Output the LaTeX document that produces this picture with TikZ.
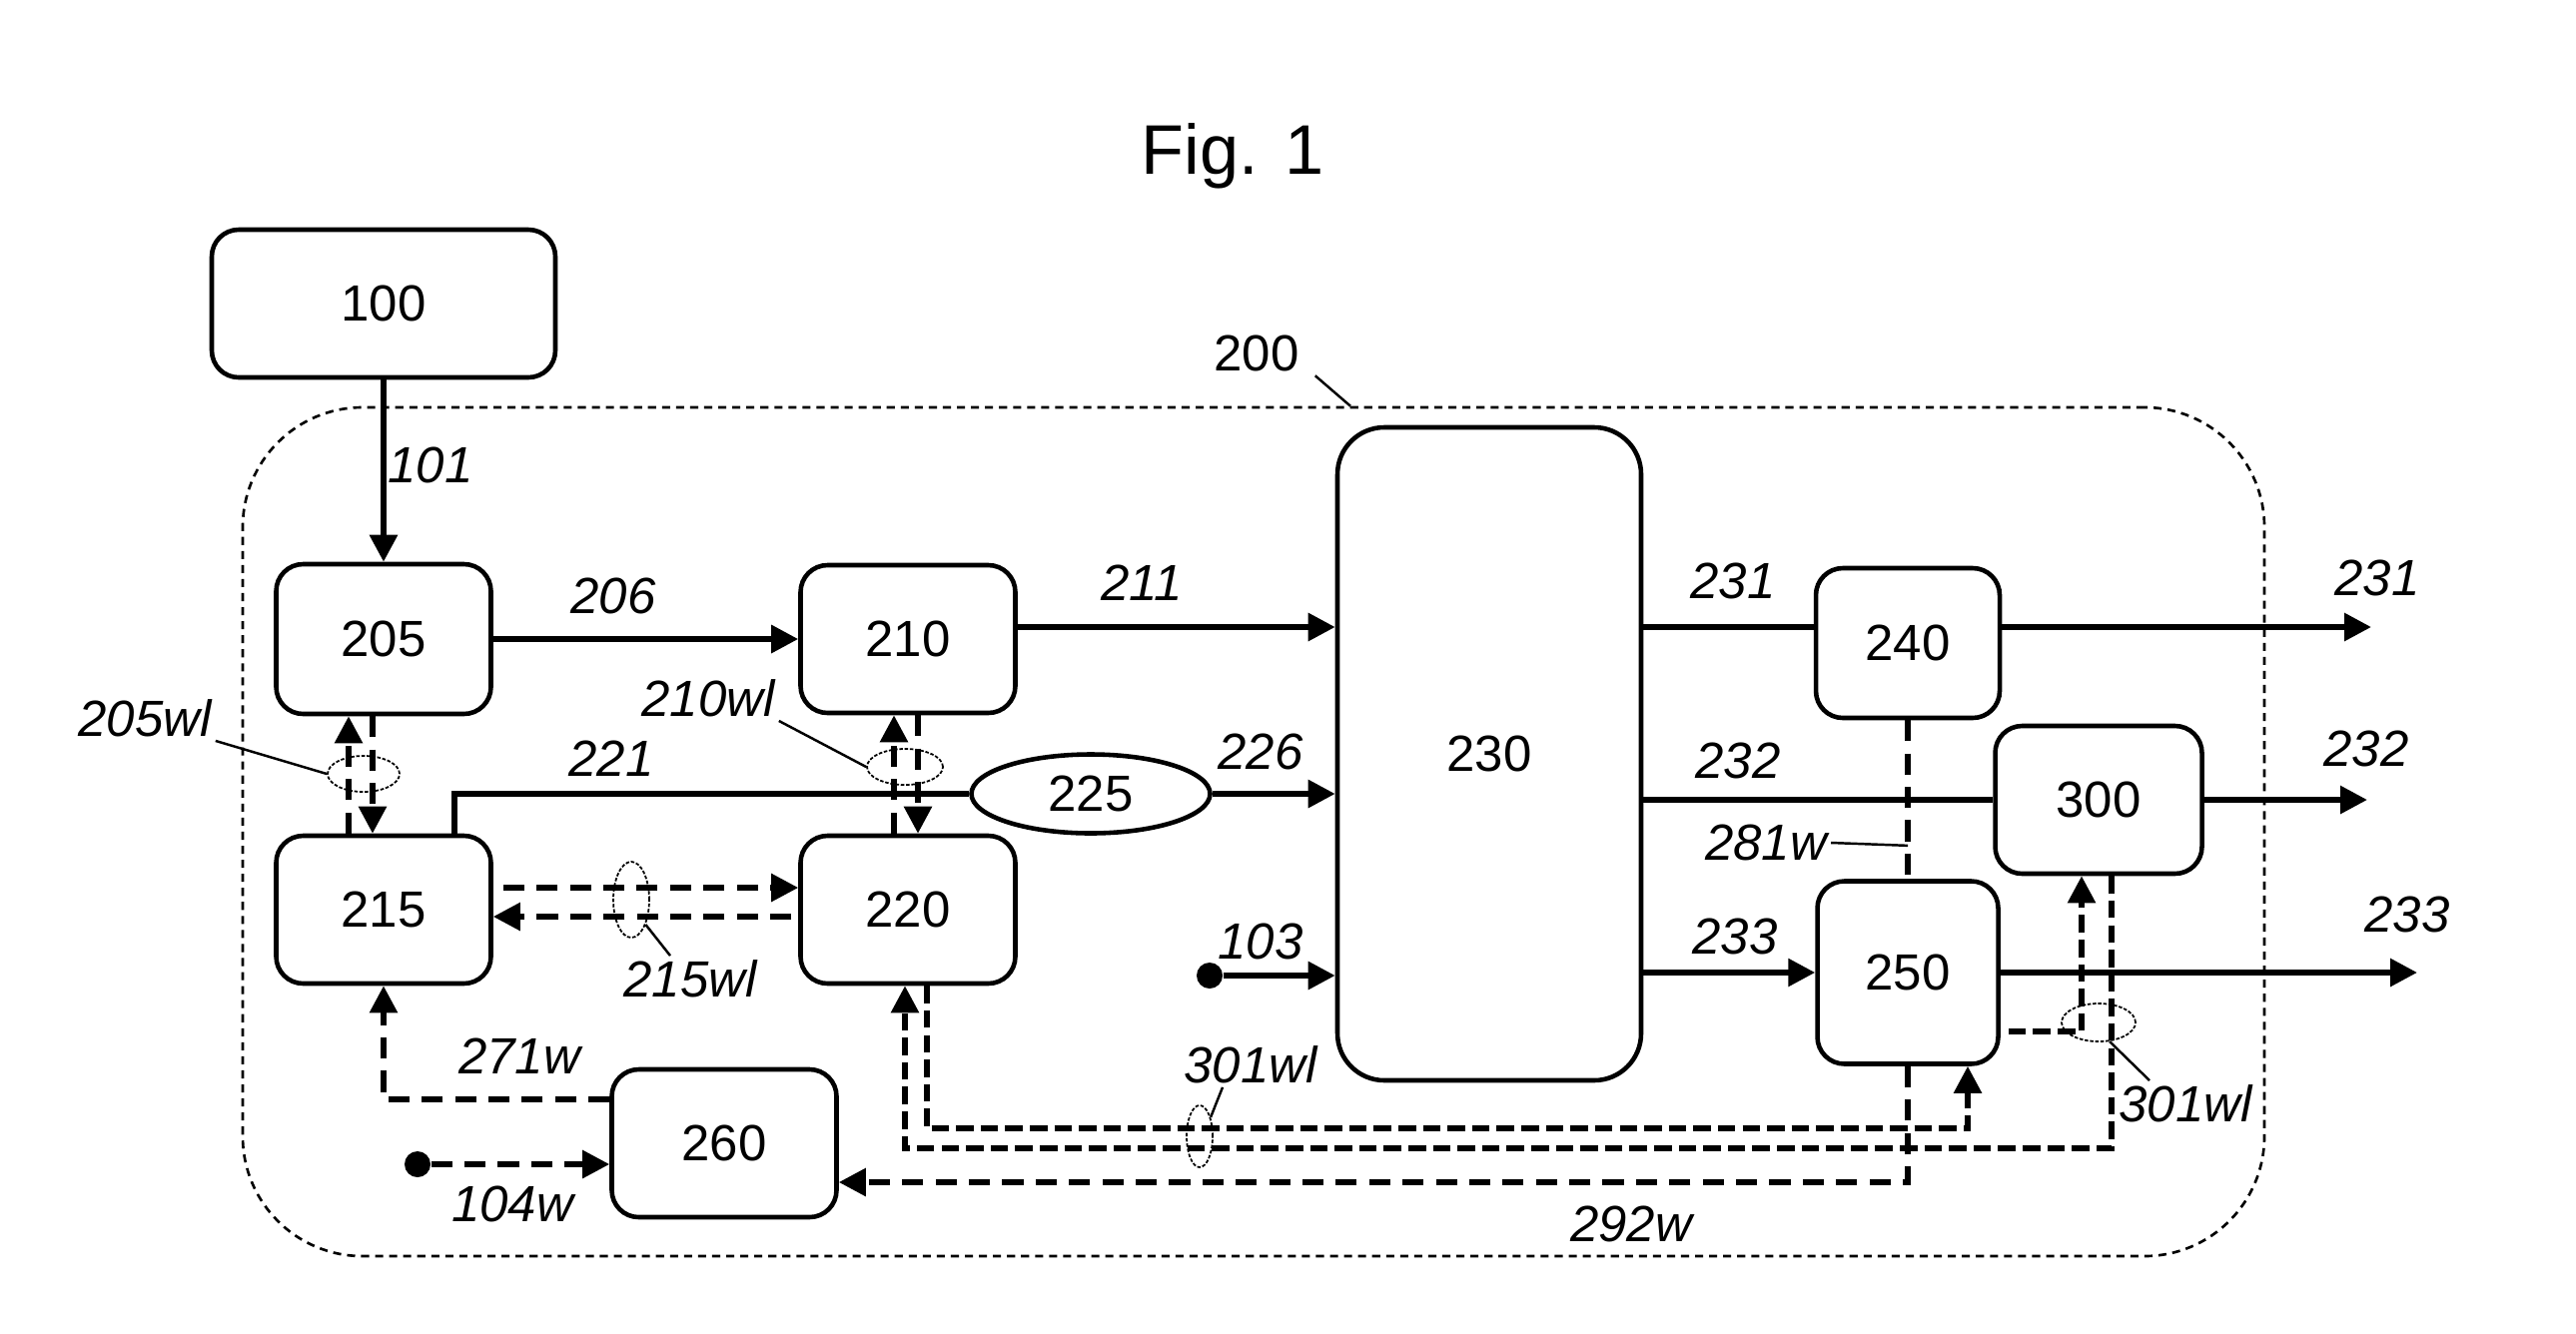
\documentclass[tikz,border=0pt]{standalone}
\usepackage{fontspec}
\setmainfont{Liberation Sans}
\usepackage{tikz}
\usetikzlibrary{arrows.meta, calc, positioning, shapes.geometric}
\newcommand{\figsize}{\fontsize{14.5pt}{17pt}\selectfont}
\tikzset{
  unitbox/.style={
    draw,
    rounded corners=0.27cm,
    line width=1.3pt,
    align=center,
    inner sep=2pt,
    minimum width=2.15cm,
    minimum height=1.48cm,
    font=\figsize
  },
  mixbox/.style={
    ellipse, draw,
    line width=1.3pt,
    inner sep=0pt,
    minimum width=2.39cm,
    minimum height=0.79cm,
    font=\figsize
  },
  flowline/.style={line width=1.7pt},
  flowarrow/.style={flowline, -{Triangle[length=2.7mm,width=2.7mm]}},
  wirelink/.style={line width=1.6pt, dash pattern=on 6pt off 3.5pt},
  wirearrow/.style={wirelink, -{Triangle[length=2.7mm,width=2.7mm]}},
  wirebus/.style={line width=1.6pt, dash pattern=on 5pt off 2pt},
  busarrow/.style={wirebus, -{Triangle[length=2.7mm,width=2.7mm]}},
  ringmark/.style={
    ellipse, draw,
    line width=0.5pt,
    dash pattern=on 1pt off 0.5pt,
    inner sep=0pt
  },
  leader/.style={line width=0.7pt},
  reflabel/.style={font=\figsize\itshape, inner sep=1pt},
  unitlabel/.style={font=\figsize, inner sep=1pt},
  joindot/.style={circle, fill, inner sep=0pt, minimum size=0.26cm},
  sysframe/.style={
    draw,
    rounded corners=1.2cm,
    line width=0.75pt,
    dash pattern=on 2.3pt off 1.7pt,
    inner sep=0pt
  }
}

\begin{document}
\begin{tikzpicture}[x=1cm,y=1cm]
\useasboundingbox (0,0) rectangle (25.79,13.35);

\node[font=\fontsize{20pt}{24pt}\selectfont] (title) at (12.34,11.79) {Fig. 1};

% system frame
\node[sysframe, minimum width=20.24cm, minimum height=8.50cm] (sys200) at (12.55,5.02) {};
\node[unitlabel] (l200) at (12.58,9.81) {200};

% units
\node[unitbox, minimum width=3.44cm] (b100) at (3.84,10.31) {100};
\node[unitbox, minimum height=1.50cm] (b205) at (3.84,6.95) {205};
\node[unitbox] (b210) at (9.09,6.95) {210};
\node[unitbox] (b215) at (3.84,4.24) {215};
\node[unitbox] (b220) at (9.09,4.24) {220};
\node[mixbox] (b225) at (10.92,5.40) {225};
\node[unitbox, rounded corners=0.47cm, minimum width=3.04cm, minimum height=6.54cm] (b230) at (14.91,5.80) {230};
\node[unitbox, minimum width=1.84cm, minimum height=1.50cm] (b240) at (19.10,6.91) {240};
\node[unitbox, minimum width=2.07cm] (b300) at (21.01,5.34) {300};
\node[unitbox, minimum width=1.81cm, minimum height=1.83cm] (b250) at (19.10,3.61) {250};
\node[unitbox, minimum width=2.25cm] (b260) at (7.25,1.90) {260};

\node[joindot] (d103) at (12.11,3.58) {};
\node[joindot] (d104) at (4.18,1.69) {};

\coordinate (p211) at ([yshift=0.12cm]b210.east);
\coordinate (o231) at (23.74,7.07);
\coordinate (o232) at (23.70,5.34);
\coordinate (o233) at (24.20,3.61);

% main flow
\draw[flowarrow] (b100.south) -- (b205.north);
\draw[flowarrow] (b205.east) -- (b205.east -| b210.west);
\draw[flowarrow] (p211) -- (p211 -| b230.west);
\draw[flowline] ([xshift=0.71cm]b215.north) |- (b225.west);
\draw[flowarrow] (b225.east) -- (b225.east -| b230.west);
\draw[flowarrow] (d103) -- (d103 -| b230.west);
\draw[flowline] (p211 -| b230.east) -- (p211 -| b240.west);
\draw[flowarrow] (o231 -| b240.east) -- (o231);
\draw[flowline] (b230.east |- b300.west) -- (b300.west);
\draw[flowarrow] (b300.east) -- (o232);
\draw[flowarrow] (b230.east |- b250.west) -- (b250.west);
\draw[flowarrow] (b250.east) -- (o233);

% signal links
\draw[wirearrow] ([xshift=-0.35cm]b215.north) -- ([xshift=-0.35cm]b205.south);
\draw[wirearrow] ([xshift=-0.11cm]b205.south) -- ([xshift=-0.11cm]b215.north);
\draw[wirearrow] ([xshift=-0.14cm]b220.north) -- ([xshift=-0.14cm]b210.south);
\draw[wirearrow] ([xshift=0.10cm]b210.south) -- ([xshift=0.10cm]b220.north);
\draw[wirearrow, shorten <=0.1cm] ([yshift=0.22cm]b215.east) -- ([yshift=0.22cm]b220.west);
\draw[wirearrow, shorten <=0.07cm] ([yshift=-0.07cm]b220.west) -- ([yshift=-0.07cm]b215.east);
\draw[wirearrow] ([yshift=0.44cm]b260.west) -| (b215.south);
\draw[wirearrow] (d104) -- (d104 -| b260.west);
\draw[wirelink] (b240.south) -- (b250.north);
\draw[wirearrow] (b250.south) |- ([yshift=-0.39cm]b260.east);
\draw[busarrow] ([xshift=0.19cm]b220.south) -- ++(0,-1.43) -| ([xshift=0.60cm]b250.south);
\draw[busarrow] ([xshift=0.13cm]b300.south) -- ++(0,-2.73) -| ([xshift=-0.03cm]b220.south);
\draw[busarrow, shorten <=0.08cm] ([yshift=-0.59cm]b250.east) -| ([xshift=-0.17cm]b300.south);

% wire bundles
\node[ringmark, minimum width=0.72cm, minimum height=0.36cm] (r205) at (3.64,5.60) {};
\node[ringmark, minimum width=0.76cm, minimum height=0.36cm] (r210) at (9.06,5.67) {};
\node[ringmark, minimum width=0.36cm, minimum height=0.76cm] (r215) at (6.32,4.34) {};
\node[ringmark, minimum width=0.26cm, minimum height=0.62cm] (r301a) at (12.01,1.97) {};
\node[ringmark, minimum width=0.74cm, minimum height=0.38cm] (r301b) at (21.01,3.11) {};

% reference labels
\node[reflabel] (l101) at (4.31,8.69) {101};
\node[reflabel] (l206) at (6.14,7.38) {206};
\node[reflabel] (l211) at (11.43,7.51) {211};
\node[reflabel] (l221) at (6.12,5.75) {221};
\node[reflabel] (l226) at (12.62,5.82) {226};
\node[reflabel] (l103) at (12.62,3.92) {103};
\node[reflabel] (l231a) at (17.35,7.53) {231};
\node[reflabel] (l231b) at (23.80,7.56) {231};
\node[reflabel] (l232a) at (17.40,5.73) {232};
\node[reflabel] (l232b) at (23.69,5.85) {232};
\node[reflabel] (l233a) at (17.37,3.97) {233};
\node[reflabel] (l233b) at (24.10,4.19) {233};
\node[reflabel] (l271) at (5.20,2.77) {271w};
\node[reflabel] (l104) at (5.13,1.29) {104w};
\node[reflabel] (l292) at (16.33,1.09) {292w};
\node[reflabel] (l281) at (17.68,4.91) {281w};
\node[reflabel] (l205wl) at (1.45,6.16) {205wl};
\node[reflabel] (l210wl) at (7.09,6.36) {210wl};
\node[reflabel] (l215wl) at (6.91,3.55) {215wl};
\node[reflabel] (l301a) at (12.52,2.69) {301wl};
\node[reflabel] (l301b) at (21.88,2.30) {301wl};

\coordinate (t281) at ($(b240.south)!0.79!(b250.north)$);

% leaders
\draw[leader] ([xshift=0.12cm]l200.south east) -- ([xshift=0.97cm]sys200.north);
\draw[leader] (l205wl.south east) -- (r205.west);
\draw[leader] (l210wl.south east) -- (r210.west);
\draw[leader] (r215.-60) -- ([xshift=-0.2cm]l215wl.north);
\draw[leader] ([xshift=-0.28cm]l301a.south) -- (r301a.60);
\draw[leader] (r301b.-60) -- ([xshift=-0.36cm]l301b.north);
\draw[leader] (l281.east) -- (t281);
\end{tikzpicture}
\end{document}
